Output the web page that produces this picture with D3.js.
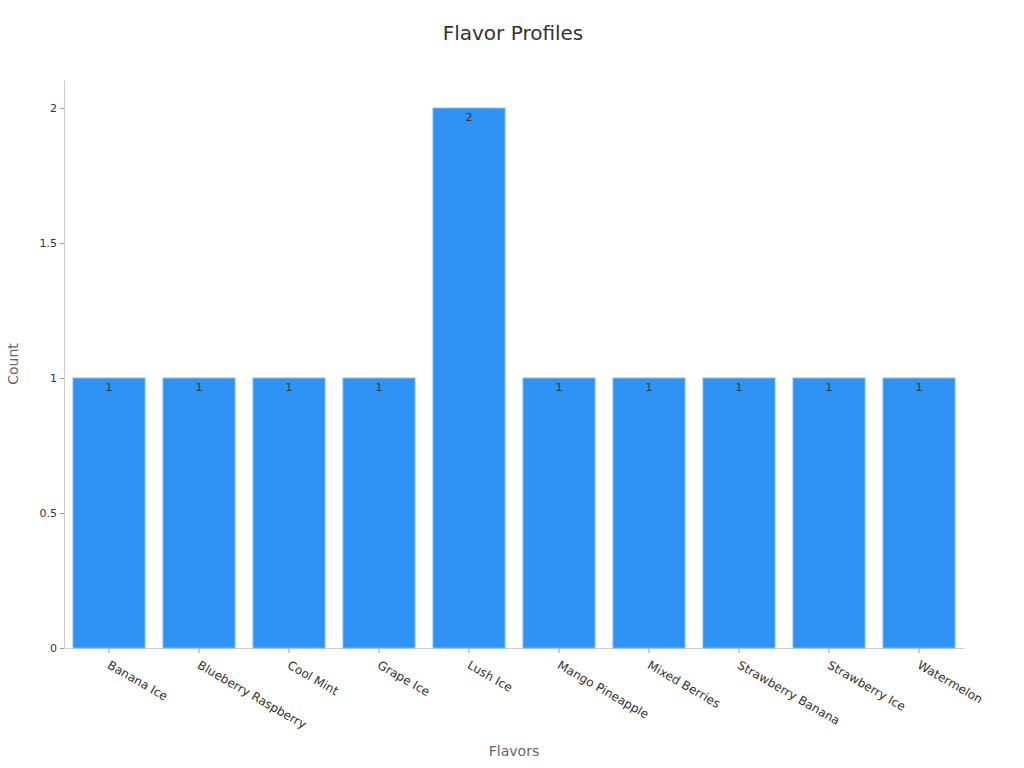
<!DOCTYPE html>
<html><head><meta charset="utf-8">
<script src="https://cdn.jsdelivr.net/npm/d3@7"></script>
<style>body{margin:0;background:#fff;font-family:"DejaVu Sans",sans-serif}</style>
</head><body><svg id="c" width="1024" height="768"></svg>
<script>
const categories=["Banana Ice","Blueberry Raspberry","Cool Mint","Grape Ice","Lush Ice","Mango Pineapple","Mixed Berries","Strawberry Banana","Strawberry Ice","Watermelon"];
const counts=[1,1,1,1,2,1,1,1,1,1];
const yTicks=[0,0.5,1,1.5,2];
const svg=d3.select("#c");
const L=64,R=964,T=80,B=648;
const x=d3.scaleBand().domain(categories).range([L,R]).paddingInner(0.2).paddingOuter(0.1);
const y=d3.scaleLinear().domain([0,2.104]).range([B,T]);
svg.append("text").attr("x",513).attr("y",40).attr("text-anchor","middle").attr("font-size",20).attr("fill","#333").text("Flavor Profiles");
const ya=svg.append("g").attr("transform",`translate(${L},0)`).call(d3.axisLeft(y).tickValues(yTicks).tickSize(4).tickSizeOuter(0).tickFormat(d=>String(d)));
ya.select(".domain").attr("stroke","#ccc");
ya.selectAll(".tick line").attr("stroke","#999");
ya.selectAll("text").attr("font-size",11).attr("fill","#333").attr("font-family","DejaVu Sans");
const xa=svg.append("g").attr("transform",`translate(0,${B})`).call(d3.axisBottom(x).tickSize(5).tickSizeOuter(0));
xa.select(".domain").attr("stroke","#ccc");
xa.selectAll(".tick line").attr("stroke","#999");
xa.selectAll("text").attr("font-size",12).attr("fill","#333").attr("font-family","DejaVu Sans")
 .attr("text-anchor","start").attr("transform","translate(6,5) rotate(30)").attr("dy","0.9em").attr("y",6);
svg.selectAll("rect.bar").data(categories).join("rect").attr("class","bar")
 .attr("x",d=>x(d)).attr("width",x.bandwidth())
 .attr("y",(d,i)=>y(counts[i])).attr("height",(d,i)=>B-y(counts[i]))
 .attr("fill","#2e93f5").attr("stroke","#7ab8f5").attr("stroke-width",1);
svg.selectAll("text.lbl").data(categories).join("text").attr("class","lbl")
 .attr("x",d=>x(d)+x.bandwidth()/2).attr("y",(d,i)=>y(counts[i])+13)
 .attr("text-anchor","middle").attr("font-size",11).attr("fill","#333").text((d,i)=>counts[i]);
svg.append("text").attr("x",514).attr("y",756).attr("text-anchor","middle").attr("font-size",14).attr("fill","#666").text("Flavors");
svg.append("text").attr("transform","translate(18,364) rotate(-90)").attr("text-anchor","middle").attr("font-size",14).attr("fill","#666").text("Count");
</script></body></html>
